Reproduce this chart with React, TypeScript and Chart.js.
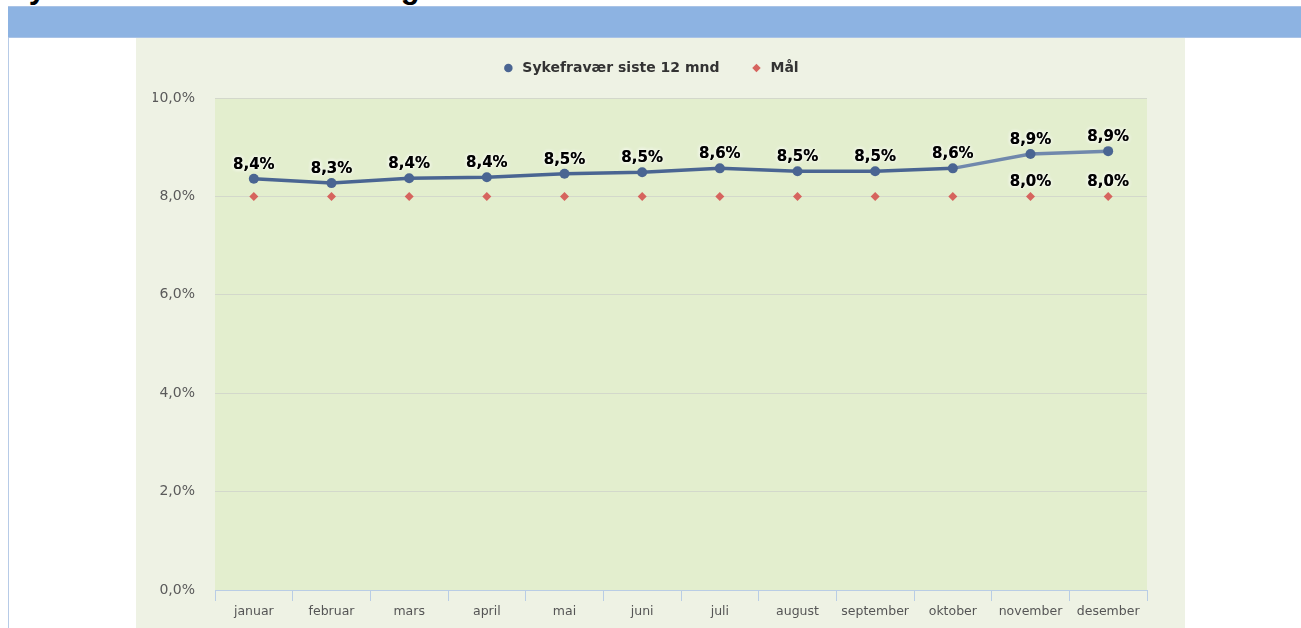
import React, { useEffect, useRef } from "react";
import { Chart, registerables } from "chart.js";

Chart.register(...registerables);

const months = [
  "januar", "februar", "mars", "april", "mai", "juni",
  "juli", "august", "september", "oktober", "november", "desember",
];
const sykefravaer = [8.36, 8.27, 8.37, 8.39, 8.46, 8.49, 8.57, 8.51, 8.51, 8.57, 8.86, 8.92];
const maal = [8.0, 8.0, 8.0, 8.0, 8.0, 8.0, 8.0, 8.0, 8.0, 8.0, 8.0, 8.0];
const maalLabelIdx = [10, 11];
const yTicks = [0, 2, 4, 6, 8, 10];

const seriesNames = ["Sykefravær siste 12 mnd", "Mål"];
const titleText = "Sykefravær siste 12 mnd og måltall";

const fmt = (v: number) => v.toFixed(1).replace(".", ",") + "%";

const bgPlugin = {
  id: "bgPlugin",
  beforeDraw(chart: any) {
    const { ctx, chartArea } = chart;
    ctx.save();
    ctx.fillStyle = "#EEF2E4";
    ctx.fillRect(0, 0, chart.width, chart.height);
    ctx.fillStyle = "#E3EECE";
    ctx.fillRect(chartArea.left, chartArea.top, chartArea.right - chartArea.left, chartArea.bottom - chartArea.top);
    ctx.restore();
  },
};

const valueLabelPlugin = {
  id: "valueLabelPlugin",
  afterDatasetsDraw(chart: any) {
    const ctx = chart.ctx;
    ctx.save();
    ctx.font = 'bold 15px "DejaVu Sans"';
    ctx.textAlign = "center";
    ctx.textBaseline = "middle";
    chart.data.datasets.forEach((ds: any, di: number) => {
      const meta = chart.getDatasetMeta(di);
      meta.data.forEach((pt: any, i: number) => {
        if (di === 1 && !maalLabelIdx.includes(i)) return;
        const text = fmt(ds.data[i] as number);
        const x = pt.x;
        const y = pt.y - 14;
        ctx.shadowColor = "rgba(255,255,255,0.95)";
        ctx.shadowBlur = 4;
        ctx.fillStyle = "#000";
        ctx.fillText(text, x, y);
        ctx.fillText(text, x, y);
      });
    });
    ctx.restore();
  },
};

function SykefravaerChart() {
  const ref = useRef<HTMLCanvasElement | null>(null);
  useEffect(() => {
    if (!ref.current) return;
    const chart = new Chart(ref.current, {
      type: "line",
      data: {
        labels: months,
        datasets: [
          {
            label: seriesNames[0],
            data: sykefravaer,
            borderColor: "#4A6592",
            backgroundColor: "#4A6592",
            borderWidth: 3.5,
            pointRadius: 5,
            pointStyle: "circle",
            pointBackgroundColor: "#4A6592",
            pointBorderColor: "#4A6592",
            pointBorderWidth: 0,
            tension: 0,
            segment: {
              borderColor: (c: any) => (c.p0DataIndex >= 9 ? "#7088AC" : undefined),
            },
          } as any,
          {
            label: seriesNames[1],
            data: maal,
            showLine: false,
            pointStyle: "rectRot",
            pointRadius: 4.5,
            backgroundColor: "#D6645E",
            borderColor: "#D6645E",
            pointBackgroundColor: "#D6645E",
            pointBorderWidth: 0,
          } as any,
        ],
      },
      options: {
        responsive: false,
        animation: false,
        devicePixelRatio: 1,
        events: [],
        layout: { padding: { top: -7, left: 17, right: 38, bottom: 0 } },
        plugins: {
          tooltip: { enabled: false },
          legend: {
            position: "top",
            labels: {
              usePointStyle: true,
              boxWidth: 14,
              boxHeight: 6,
              padding: 30,
              color: "#333333",
              font: { family: "DejaVu Sans", size: 14, weight: "bold" },
              generateLabels: (ch: any) =>
                (Chart.defaults.plugins.legend.labels as any)
                  .generateLabels(ch)
                  .map((l: any) => ({ ...l, lineWidth: 0, strokeStyle: l.fillStyle })),
            },
          },
          subtitle: {
            display: true,
            text: " ",
            position: "top",
            weight: 500,
            font: { size: 1, lineHeight: 1 },
            padding: { top: 12, bottom: 0 },
          } as any,
        },
        scales: {
          x: {
            offset: true,
            grid: {
              offset: true,
              drawOnChartArea: false,
              drawTicks: true,
              tickLength: 11,
              color: "#B9CDE5",
            },
            border: { display: true, color: "#B9CDE5" },
            ticks: {
              color: "#555555",
              font: { family: "DejaVu Sans", size: 12.5 },
              padding: 3,
              maxRotation: 0,
              autoSkip: false,
            },
            afterFit(s: any) {
              s.height = 38;
            },
          },
          y: {
            min: 0,
            max: 10,
            afterBuildTicks(s: any) {
              s.ticks = yTicks.map((v) => ({ value: v }));
            },
            ticks: {
              color: "#5A5A5A",
              font: { family: "DejaVu Sans", size: 14 },
              padding: 20,
              callback: (v: any) => fmt(Number(v)),
            },
            grid: { color: "#D3D8CB", drawTicks: false },
            border: { display: false },
            afterFit(s: any) {
              s.width = 62;
            },
          },
        },
      },
      plugins: [bgPlugin, valueLabelPlugin],
    });
    return () => chart.destroy();
  }, []);
  return (
    <canvas
      ref={ref}
      width={1049}
      height={590}
      style={{ position: "absolute", left: 136, top: 38, width: 1049, height: 590 }}
    />
  );
}

export default function App() {
  return (
    <div>
      <div
        style={{
          position: "absolute",
          left: 8,
          top: -27,
          font: 'bold 31px "Liberation Sans", Arial, sans-serif',
          lineHeight: "30px",
          color: "#000",
          whiteSpace: "nowrap",
        }}
      >
        {titleText}
      </div>
      <div
        style={{
          position: "absolute",
          left: 8,
          top: 6,
          width: 1293,
          height: 31,
          background: "#8DB3E2",
          borderTop: "1px solid #A9C3E6",
          boxSizing: "border-box",
        }}
      />
      <div style={{ position: "absolute", left: 8, top: 37, width: 1293, height: 1, background: "#A9C3E6" }} />
      <div style={{ position: "absolute", left: 8, top: 38, width: 1, height: 590, background: "#B7CBE7" }} />
      <SykefravaerChart />
    </div>
  );
}
